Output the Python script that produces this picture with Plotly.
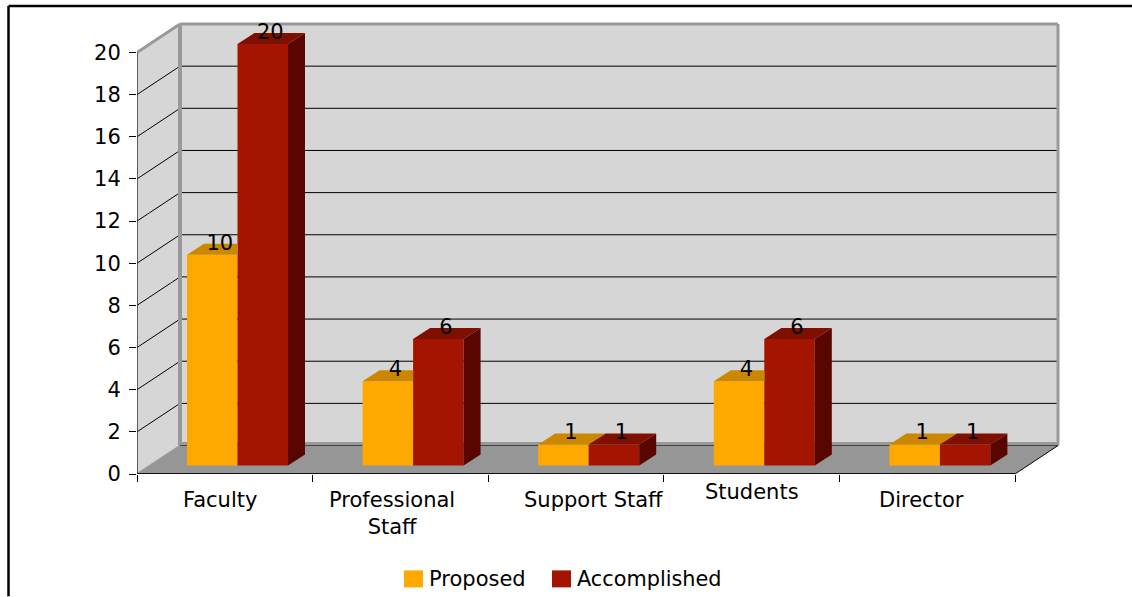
import plotly.graph_objects as go

categories = ["Faculty", "Professional<br>Staff", "Support Staff", "Students", "Director"]
proposed = [10, 4, 1, 4, 1]
accomplished = [20, 6, 1, 6, 1]
y_ticks = list(range(0, 21, 2))
legend_names = ["Proposed", "Accomplished"]

ML, MR, MT, MB = 137, 70, 22, 122.5
PW, PH = 1132 - ML - MR, 597 - MT - MB
PX_X = 175.6
PX_Y = 21.1
WALL_DX, WALL_DY = 43 / PX_X, 28.5 / PX_Y
BAR_OFF, BAR_W, BAR_BASE = 50 / PX_X, 50.5 / PX_X, 8.5 / PX_Y
SIDE_DX, SIDE_DY = 17 / PX_X, 11 / PX_Y
N = len(categories)
ORANGE, ORANGE_TOP = "#FFA900", "#CC8700"
RED, RED_TOP, RED_SIDE = "#A31500", "#7F1000", "#5A0600"
WALL, FLOOR, EDGE = "#D6D6D6", "#969696", "#999999"
FONT = "DejaVu Sans"
FS = 21


def path(pts):
    return "M" + " L".join(f"{x},{y}" for x, y in pts) + " Z"


def px(x):
    return (x - ML) / PW


def py(y):
    return (597 - MB - y) / PH


shapes = [
    dict(type="path", path=path([(0, 0), (WALL_DX, WALL_DY), (WALL_DX, 20 + WALL_DY), (0, 20)]),
         fillcolor=WALL, line=dict(width=0), layer="below"),
    dict(type="path", path=path([(WALL_DX, WALL_DY), (N + WALL_DX, WALL_DY), (N + WALL_DX, 20 + WALL_DY), (WALL_DX, 20 + WALL_DY)]),
         fillcolor=WALL, line=dict(width=0), layer="below"),
    dict(type="path", path=path([(0, 0), (N, 0), (N + WALL_DX, WALL_DY), (WALL_DX, WALL_DY)]),
         fillcolor=FLOOR, line=dict(width=0), layer="below"),
]
for t in y_ticks[1:-1]:
    shapes.append(dict(type="line", x0=0, y0=t, x1=WALL_DX, y1=t + WALL_DY, line=dict(color="#000", width=1), layer="below"))
    shapes.append(dict(type="line", x0=WALL_DX, y0=t + WALL_DY, x1=N + WALL_DX, y1=t + WALL_DY, line=dict(color="#000", width=1), layer="below"))
for a, b, c, d, w in [
    (0, 20, WALL_DX, 20 + WALL_DY, 3),
    (WALL_DX, 20 + WALL_DY, N + WALL_DX, 20 + WALL_DY, 3),
    (WALL_DX, WALL_DY, WALL_DX, 20 + WALL_DY, 4),
    (N + WALL_DX, WALL_DY, N + WALL_DX, 20 + WALL_DY, 3),
    (WALL_DX, WALL_DY + 2 / PX_Y, N + WALL_DX, WALL_DY + 2 / PX_Y, 3),
    (0, 0, WALL_DX, WALL_DY, 1.5),
]:
    shapes.append(dict(type="line", x0=a, y0=b, x1=c, y1=d, line=dict(color=EDGE, width=w), layer="below"))
shapes.append(dict(type="line", x0=WALL_DX, y0=WALL_DY, x1=N + WALL_DX, y1=WALL_DY, line=dict(color="#444", width=1), layer="below"))
shapes.append(dict(type="line", x0=N, y0=0, x1=N + WALL_DX, y1=WALL_DY, line=dict(color="#000", width=1), layer="below"))
shapes.append(dict(type="line", x0=0, y0=0, x1=0, y1=20, line=dict(color="#333", width=1.5)))
shapes.append(dict(type="line", x0=0, y0=0, x1=N, y1=0, line=dict(color="#111", width=2)))
# outer frame of the picture (left and top only)
for x0, y0, x1, y1 in [(8.5, 597, 8.5, 6), (8.5, 6, 1132, 6)]:
    shapes.append(dict(type="line", xref="paper", yref="paper", x0=px(x0), y0=py(y0), x1=px(x1), y1=py(y1),
                       line=dict(color="#000", width=2.5)))

xo = [i + BAR_OFF for i in range(N)]
xr = [x + BAR_W for x in xo]

fig = go.Figure()
fig.add_bar(x=[x + BAR_W / 2 for x in xo], y=proposed, base=BAR_BASE, width=BAR_W, name=legend_names[0],
            marker=dict(color=ORANGE, line=dict(width=0)), showlegend=False, hoverinfo="skip")
fig.add_bar(x=[x + BAR_W / 2 for x in xr], y=accomplished, base=BAR_BASE, width=BAR_W, name=legend_names[1],
            marker=dict(color=RED, line=dict(width=0)), showlegend=False, hoverinfo="skip")


def poly(pts, color):
    fig.add_scatter(x=[p[0] for p in pts] + [pts[0][0]], y=[p[1] for p in pts] + [pts[0][1]],
                    mode="lines", fill="toself", fillcolor=color, line=dict(width=0, color=color),
                    showlegend=False, hoverinfo="skip")


for i in range(N):
    L, R = xo[i], xr[i]
    h = proposed[i] + BAR_BASE
    if accomplished[i] > proposed[i]:
        poly([(L, h), (R, h), (R, h + SIDE_DY), (L + SIDE_DX, h + SIDE_DY)], ORANGE_TOP)
    else:
        poly([(L, h), (R, h), (R + SIDE_DX, h + SIDE_DY), (L + SIDE_DX, h + SIDE_DY)], ORANGE_TOP)
    R2 = R + BAR_W
    h2 = accomplished[i] + BAR_BASE
    poly([(R, h2), (R2, h2), (R2 + SIDE_DX, h2 + SIDE_DY), (R + SIDE_DX, h2 + SIDE_DY)], RED_TOP)
    poly([(R2, BAR_BASE), (R2 + SIDE_DX, BAR_BASE + SIDE_DY), (R2 + SIDE_DX, h2 + SIDE_DY), (R2, h2)], RED_SIDE)

LBL_DX, LBL_DY = 7.5 / PX_X, 10.5 / PX_Y
fig.add_scatter(x=[x + BAR_W / 2 + LBL_DX for x in xo], y=[v + BAR_BASE + LBL_DY for v in proposed],
                text=[str(v) for v in proposed], mode="text", textposition="middle center",
                textfont=dict(family=FONT, size=FS, color="#000"), showlegend=False, hoverinfo="skip")
fig.add_scatter(x=[x + BAR_W / 2 + LBL_DX for x in xr], y=[v + BAR_BASE + LBL_DY for v in accomplished],
                text=[str(v) for v in accomplished], mode="text", textposition="middle center",
                textfont=dict(family=FONT, size=FS, color="#000"), showlegend=False, hoverinfo="skip")

label_shift = [-4.5, -8.5, 17.5, 0, -6]
label_drop = [11.5, 11.5, 11.5, 3.5, 11.5]
annotations = [
    dict(x=i + 0.5, y=0, yref="paper", xref="x", text=c, showarrow=False, xanchor="center", yanchor="top",
         xshift=label_shift[i], yshift=-label_drop[i], font=dict(family=FONT, size=FS, color="#000"))
    for i, c in enumerate(categories)
]

# legend: square swatches of the reference are larger than plotly's own key
for name, col, sw_x, txt_x, fs in zip(legend_names, [ORANGE, RED], [404, 552], [427, 575], [FS, 20.8]):
    shapes.append(dict(type="rect", xref="paper", yref="paper", x0=px(sw_x), x1=px(sw_x + 19), y0=py(588), y1=py(571),
                       fillcolor=col, line=dict(width=0)))
    annotations.append(dict(x=px(txt_x), y=py(580), xref="paper", yref="paper", text=name, showarrow=False,
                            xanchor="left", yanchor="middle", font=dict(family=FONT, size=fs, color="#000")))

fig.update_layout(
    width=1132, height=597, margin=dict(l=ML, r=MR, t=MT, b=MB, pad=0, autoexpand=False),
    paper_bgcolor="#fff", plot_bgcolor="#fff", barmode="overlay", shapes=shapes, annotations=annotations,
    font=dict(family=FONT, size=FS, color="#000"), showlegend=False,
    xaxis=dict(range=[0, PW / PX_X], tickvals=list(range(N + 1)), showticklabels=False, ticks="outside", ticklen=7,
               tickcolor="#000", showline=False, showgrid=False, zeroline=False, fixedrange=True),
    yaxis=dict(range=[0, PH / PX_Y], tickvals=y_ticks, ticks="outside", ticklen=7, tickcolor="#000", showline=False,
               showgrid=False, zeroline=False, tickfont=dict(family=FONT, size=FS), ticklabelstandoff=4, fixedrange=True),
)
fig.write_html("out.html", config={"displayModeBar": False},
               post_script="document.body.style.margin='0';document.body.style.overflow='hidden';")
